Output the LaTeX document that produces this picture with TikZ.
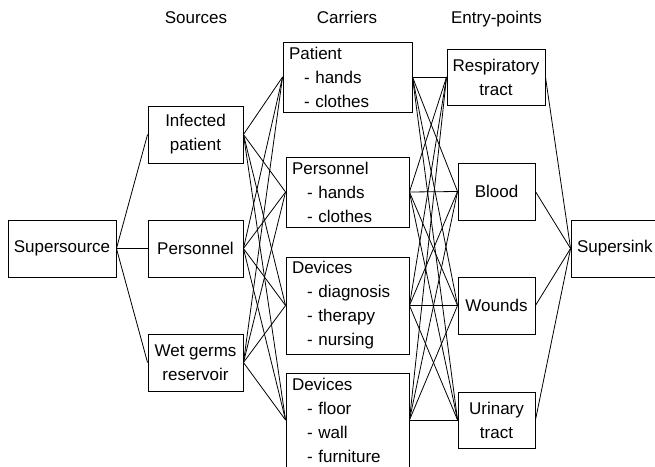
\documentclass[tikz,border=0pt]{standalone}
\usepackage{fontspec}
\setmainfont{Liberation Sans}
\begin{document}
\begin{tikzpicture}[x=1pt, y=-1pt,
  every node/.style={font=\fontsize{17}{24}\selectfont},
  box/.style={draw, line width=0.9pt, inner xsep=0pt, inner ysep=0pt, align=center,
    minimum width=#1},
  carrier/.style={draw, line width=0.9pt, inner xsep=6pt, inner ysep=0pt, align=left,
    text width=#1},
  header/.style={anchor=base},
  edge/.style={line width=0.8pt}
]
\useasboundingbox (0,0) rectangle (655,466);
\clip (0,0) rectangle (655,466);

% column headings
\node[header] (hs) at (196,23) {Sources};
\node[header] (hc) at (347,23) {Carriers};
\node[header] (he) at (496.5,23) {Entry-points};

% supersource and supersink
\node[box=108pt, minimum height=57pt] (ss) at (62,248.5) {Supersource};
\node[box=108pt, minimum height=57pt, text width=96pt, align=left, inner xsep=6pt] (st) at (625,248.5) {Supersink};

% sources
\node[box=95pt, minimum height=57pt] (s1) at (195.5,134.5) {Infected\\patient};
\node[box=95pt, minimum height=57pt] (s2) at (195.5,248.5) {Personnel};
\node[box=95pt, minimum height=57pt] (s3) at (195.5,362.5) {Wet germs\\reservoir};

% carriers
\node[carrier=117pt, minimum height=70pt] (c1) at (347.5,77)
  {Patient\\\hspace*{15pt}- hands\\\hspace*{15pt}- clothes};
\node[carrier=111pt, minimum height=70pt] (c2) at (347.5,192)
  {Personnel\\\hspace*{15pt}- hands\\\hspace*{15pt}- clothes};
\node[carrier=111pt, minimum height=97pt] (c3) at (347.5,305.5)
  {Devices\\\hspace*{15pt}- diagnosis\\\hspace*{15pt}- therapy\\\hspace*{15pt}- nursing};
\node[carrier=111pt, minimum height=94pt] (c4) at (347.5,420)
  {Devices\\\hspace*{15pt}- floor\\\hspace*{15pt}- wall\\\hspace*{15pt}- furniture};

% entry points
\node[box=98pt, minimum height=56pt] (e1) at (496,77) {Respiratory\\tract};
\node[box=77pt, minimum height=57pt] (e2) at (496.5,191.5) {Blood};
\node[box=77pt, minimum height=57pt] (e3) at (496.5,305.5) {Wounds};
\node[box=77pt, minimum height=56pt] (e4) at (496.5,420) {Urinary\\tract};

% connectors
\foreach \s in {s1,s2,s3}
  \draw[edge] (ss.east) -- (\s.west);
\foreach \s in {s1,s2,s3}
  \foreach \c in {c1,c2,c3,c4}
    \draw[edge] (\s.east) -- (\c.west);
\foreach \c in {c1,c2,c3,c4}
  \foreach \e in {e1,e2,e3,e4}
    \draw[edge] (\c.east) -- (\e.west);
\foreach \e in {e1,e2,e3,e4}
  \draw[edge] (\e.east) -- (st.west);
\end{tikzpicture}
\end{document}
